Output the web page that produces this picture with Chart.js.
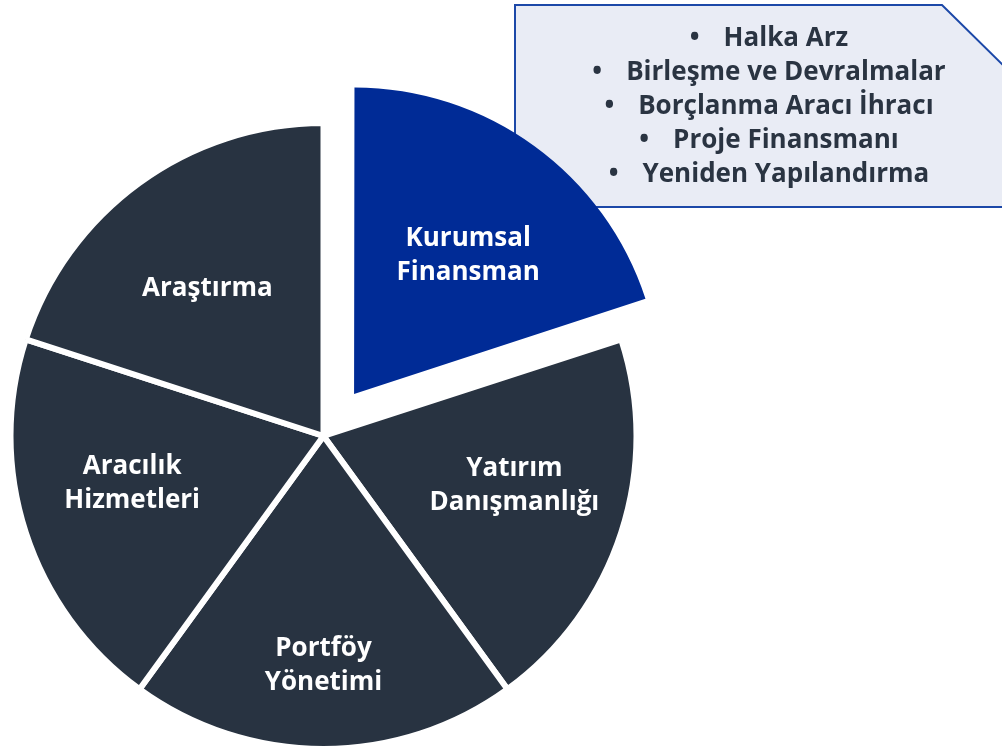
<!DOCTYPE html>
<html>
<head>
<meta charset="utf-8">
<script src="https://cdn.jsdelivr.net/npm/chart.js@4.4.1/dist/chart.umd.min.js"></script>
<style>
  html, body { margin: 0; padding: 0; background: #ffffff; }
  #wrap { width: 1002px; height: 753px; position: relative; }
</style>
</head>
<body>
<div id="wrap"><canvas id="pie"></canvas></div>
<script>
// slices, clockwise from 12 o'clock
const labels = [
  ['Kurumsal', 'Finansman'],
  ['Yatırım', 'Danışmanlığı'],
  ['Portföy', 'Yönetimi'],
  ['Aracılık', 'Hizmetleri'],
  ['Araştırma']
];
const shares = [20, 20, 20, 20, 20];
const calloutItems = [
  'Halka Arz',
  'Birleşme ve Devralmalar',
  'Borçlanma Aracı İhracı',
  'Proje Finansmanı',
  'Yeniden Yapılandırma'
];

const DARK = '#283341';
const BLUE = '#002b96';
const FONT = '"Open Sans", Lato, sans-serif';

// label placement inside each slice: share of radius, and a small turn (deg)
const labelDist = [0.59, 0.63, 0.735, 0.63, 0.6];
const labelTurn = [3.5, -3.5, 0, 4, -2.2];

const calloutBox = {
  id: 'calloutBox',
  beforeDatasetsDraw(chart) {
    const ctx = chart.ctx;
    ctx.save();
    ctx.beginPath();
    ctx.moveTo(515, 5);
    ctx.lineTo(942, 5);
    ctx.lineTo(1010, 72);
    ctx.lineTo(1010, 207);
    ctx.lineTo(515, 207);
    ctx.closePath();
    ctx.fillStyle = '#e9ecf5';
    ctx.fill();
    ctx.lineWidth = 2;
    ctx.strokeStyle = '#1c48a8';
    ctx.stroke();

    ctx.font = 'bold 26px ' + FONT;
    ctx.fillStyle = '#2a3442';
    ctx.textBaseline = 'alphabetic';
    ctx.textAlign = 'left';
    const gap = 24;
    calloutItems.forEach((t, i) => {
      const bw = ctx.measureText('•').width;
      const tw = ctx.measureText(t).width;
      const total = bw + gap + tw;
      const x0 = 769 - total / 2;
      const y = 46 + i * 34;
      ctx.fillText('•', x0, y);
      ctx.fillText(t, x0 + bw + gap, y);
    });
    ctx.restore();
  }
};

const sliceLabels = {
  id: 'sliceLabels',
  afterDatasetsUpdate(chart) {
    // exploded slice is drawn a little smaller, as in the original
    const arc = chart.getDatasetMeta(0).data[0];
    arc.outerRadius = 304;
  },
  afterDatasetsDraw(chart) {
    const ctx = chart.ctx;
    const meta = chart.getDatasetMeta(0);
    ctx.save();
    ctx.font = 'bold 26px ' + FONT;
    ctx.fillStyle = '#ffffff';
    ctx.textAlign = 'center';
    ctx.textBaseline = 'middle';
    meta.data.forEach((arc, i) => {
      const mid = (arc.startAngle + arc.endAngle) / 2;
      const shift = (arc.options.offset || 0) / 4;
      const cx = arc.x + Math.cos(mid) * shift;
      const cy = arc.y + Math.sin(mid) * shift;
      const a = mid + labelTurn[i] * Math.PI / 180;
      const r = arc.outerRadius * labelDist[i];
      const lx = cx + Math.cos(a) * r;
      const ly = cy + Math.sin(a) * r;
      const lines = labels[i];
      lines.forEach((ln, k) => {
        ctx.fillText(ln, lx, ly + (k - (lines.length - 1) / 2) * 34);
      });
    });
    ctx.restore();
  }
};

new Chart(document.getElementById('pie'), {
  type: 'pie',
  data: {
    labels: labels.map(l => l.join(' ')),
    datasets: [{
      data: shares,
      backgroundColor: [BLUE, DARK, DARK, DARK, DARK],
      borderColor: '#ffffff',
      borderWidth: [0, 6, 6, 6, 6],
      offset: [208, 0, 0, 0, 0],
      radius: 313,
      clip: false
    }]
  },
  options: {
    responsive: true,
    maintainAspectRatio: false,
    animation: false,
    layout: { padding: { left: 0, right: 355, top: 119, bottom: 0 } },
    plugins: {
      legend: { display: false },
      tooltip: { enabled: false }
    }
  },
  plugins: [calloutBox, sliceLabels]
});
</script>
</body>
</html>
